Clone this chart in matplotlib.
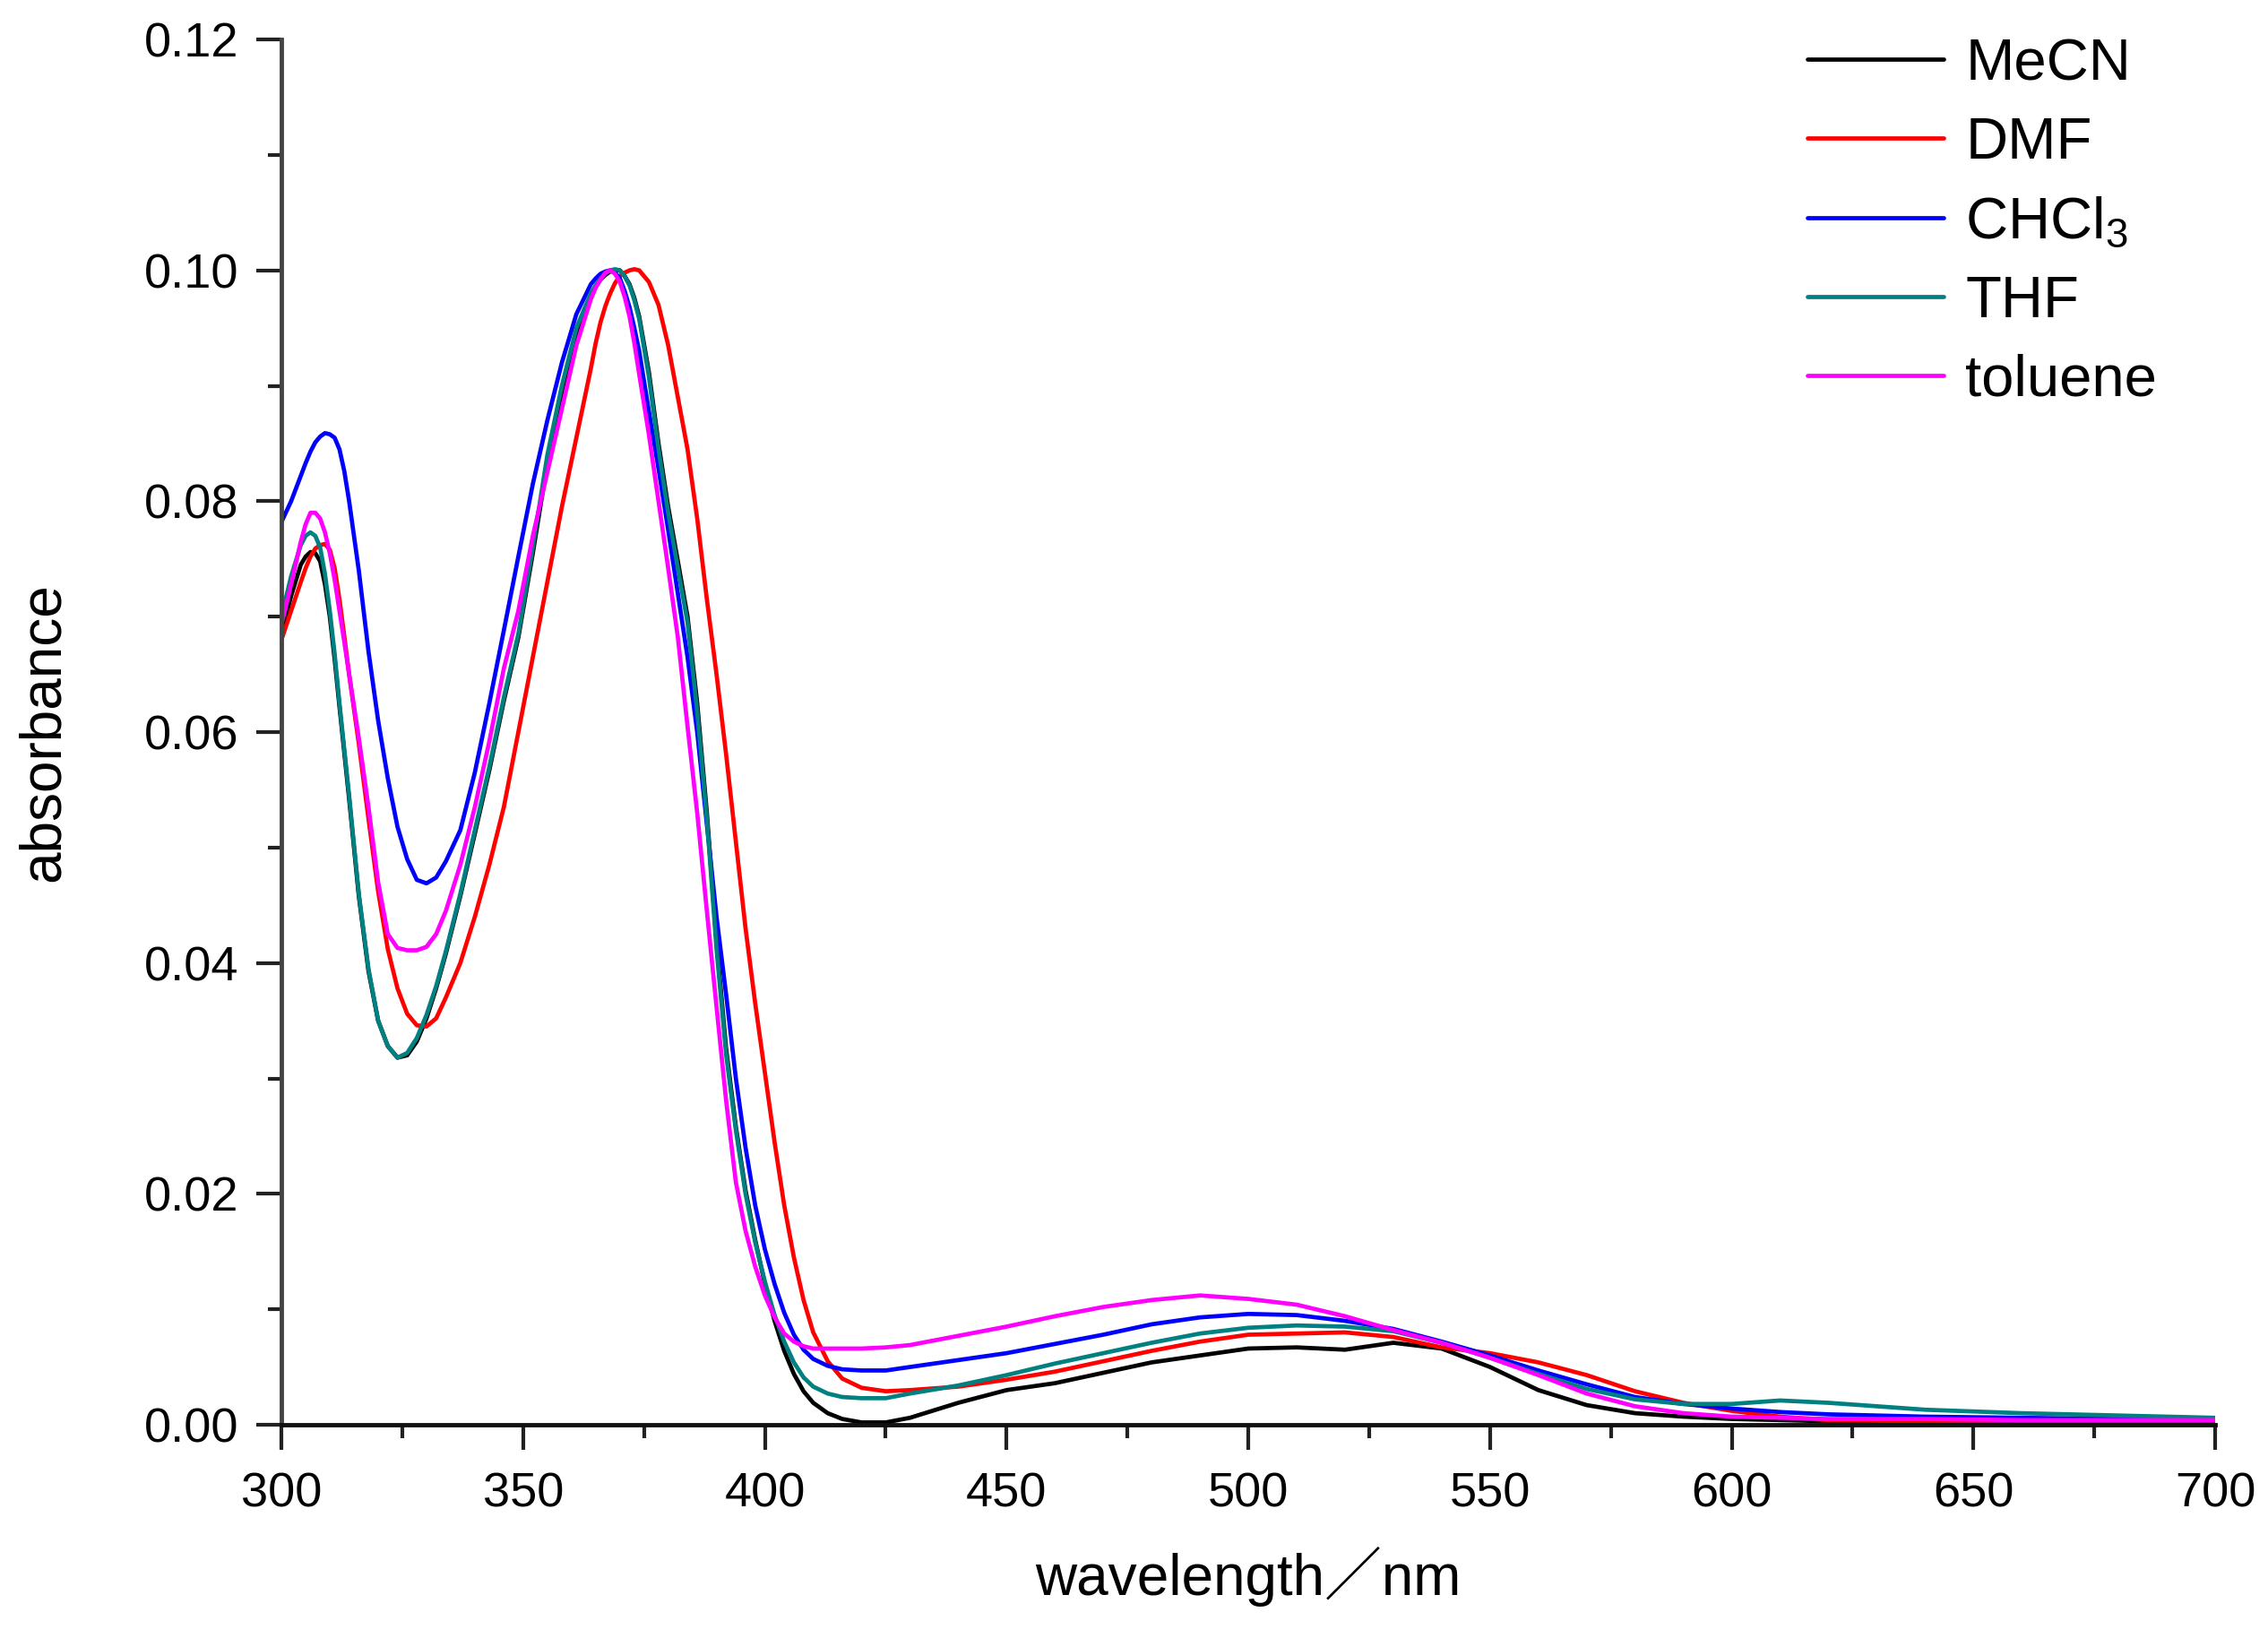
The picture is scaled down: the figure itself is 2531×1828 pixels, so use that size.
import numpy as np
import matplotlib
matplotlib.use("Agg")
import matplotlib.pyplot as plt
from matplotlib.ticker import MultipleLocator

plt.rcParams['font.family'] = ['Liberation Sans', 'Noto Sans CJK JP', 'DejaVu Sans']
plt.rcParams['mathtext.fontset'] = 'custom'
plt.rcParams['mathtext.rm'] = 'Liberation Sans'
plt.rcParams['mathtext.it'] = 'Liberation Sans:italic'

# wavelength grid (nm)
wavelength = [300, 302, 304, 305, 306, 307, 308, 309, 310, 311, 312, 313, 314, 316, 318, 320, 322, 324, 326,
              328, 330, 332, 334,
              337, 340, 343, 346, 349, 352, 355, 358, 361, 364,
              365, 366, 367, 368, 369, 370, 371, 372, 373, 374, 376, 378, 380, 382, 384, 386, 388, 390, 392,
              394, 396, 398, 400, 402, 404, 406, 408, 410,
              413, 416, 420, 425, 430,
              440, 450, 460, 470, 480, 490, 500, 510, 520, 530, 540, 550, 560, 570, 580, 590, 600, 610, 620,
              640, 660, 680, 700]

mecn = [0.0685, 0.0718, 0.0745, 0.0752, 0.0756, 0.0755, 0.0748, 0.0728, 0.0700, 0.0663, 0.0622, 0.0582,
        0.0542, 0.0458, 0.0393, 0.0350, 0.0328, 0.0318, 0.0320,
        0.0332, 0.0352, 0.0378, 0.0408,
        0.0458, 0.0512, 0.0567, 0.0627, 0.0682, 0.0755, 0.0833, 0.0895, 0.0945, 0.0978,
        0.0986, 0.0992, 0.0996, 0.0999, 0.1000, 0.1000, 0.0995, 0.0988, 0.0976, 0.0960, 0.0912, 0.0850,
        0.0795, 0.0748, 0.0700, 0.0625, 0.0530, 0.0418, 0.0325,
        0.0258, 0.0203, 0.0160, 0.0122, 0.0090, 0.0064, 0.0044, 0.0029, 0.0019,
        0.0010, 0.0005, 0.0002, 0.0002, 0.0006,
        0.0019, 0.0030, 0.0036, 0.0045, 0.0054, 0.0060, 0.0066, 0.0067, 0.0065, 0.0071, 0.0066, 0.0050,
        0.0030, 0.0017, 0.0010, 0.0007, 0.0005, 0.0004, 0.0003,
        0.0003, 0.0002, 0.0002, 0.0002]

dmf = [0.0680, 0.0705, 0.0730, 0.0742, 0.0752, 0.0759, 0.0762, 0.0763, 0.0758, 0.0742, 0.0715, 0.0683,
       0.0650, 0.0590, 0.0525, 0.0462, 0.0412, 0.0378, 0.0356,
       0.0346, 0.0345, 0.0352, 0.0370,
       0.0400, 0.0440, 0.0485, 0.0535, 0.0600, 0.0665, 0.0730, 0.0795, 0.0855, 0.0915,
       0.0937, 0.0955, 0.0969, 0.0980, 0.0989, 0.0995, 0.0998, 0.1000, 0.1001, 0.1000, 0.0990, 0.0970,
       0.0935, 0.0890, 0.0845, 0.0785, 0.0715, 0.0650, 0.0580,
       0.0505, 0.0430, 0.0365, 0.0305, 0.0245, 0.0190, 0.0145, 0.0108, 0.0080,
       0.0055, 0.0040, 0.0032, 0.0029, 0.0030,
       0.0033, 0.0039, 0.0046, 0.0055, 0.0064, 0.0072, 0.0078, 0.0079, 0.0080, 0.0076, 0.0067, 0.0062,
       0.0054, 0.0043, 0.0029, 0.0019, 0.0012, 0.0007, 0.0004,
       0.0003, 0.0002, 0.0002, 0.0002]

chcl3 = [0.0782, 0.0800, 0.0822, 0.0833, 0.0843, 0.0851, 0.0856, 0.0859, 0.0858, 0.0855, 0.0845, 0.0826,
         0.0800, 0.0740, 0.0670, 0.0610, 0.0560, 0.0518, 0.0490,
         0.0472, 0.0469, 0.0474, 0.0488,
         0.0515, 0.0565, 0.0625, 0.0688, 0.0752, 0.0815, 0.0870, 0.0920, 0.0962, 0.0988,
         0.0993, 0.0997, 0.0999, 0.1000, 0.0998, 0.0993, 0.0982, 0.0968, 0.0950, 0.0930, 0.0878, 0.0828,
         0.0775, 0.0720, 0.0665, 0.0600, 0.0520, 0.0440, 0.0372,
         0.0300, 0.0240, 0.0190, 0.0152, 0.0122, 0.0097, 0.0078, 0.0065, 0.0057,
         0.0051, 0.0048, 0.0047, 0.0047, 0.0050,
         0.0056, 0.0062, 0.0070, 0.0078, 0.0087, 0.0093, 0.0096, 0.0095, 0.0090, 0.0083, 0.0072, 0.0060,
         0.0047, 0.0035, 0.0024, 0.0018, 0.0014, 0.0011, 0.0009,
         0.0007, 0.0006, 0.0005, 0.0004]

thf = [0.0700, 0.0735, 0.0762, 0.0770, 0.0773, 0.0770, 0.0760, 0.0737, 0.0705, 0.0668, 0.0625, 0.0585,
       0.0545, 0.0460, 0.0395, 0.0350, 0.0328, 0.0318, 0.0322,
       0.0335, 0.0355, 0.0380, 0.0410,
       0.0460, 0.0515, 0.0570, 0.0630, 0.0685, 0.0760, 0.0840, 0.0900, 0.0950, 0.0980,
       0.0987, 0.0993, 0.0997, 0.1000, 0.1001, 0.1000, 0.0995, 0.0987, 0.0974, 0.0958, 0.0908, 0.0845,
       0.0790, 0.0742, 0.0695, 0.0618, 0.0525, 0.0412, 0.0320,
       0.0255, 0.0200, 0.0158, 0.0124, 0.0095, 0.0072, 0.0054, 0.0041, 0.0033,
       0.0027, 0.0024, 0.0023, 0.0023, 0.0027,
       0.0034, 0.0043, 0.0053, 0.0062, 0.0071, 0.0079, 0.0084, 0.0086, 0.0085, 0.0081, 0.0071, 0.0058,
       0.0044, 0.0031, 0.0022, 0.0018, 0.0018, 0.0021, 0.0019,
       0.0013, 0.0010, 0.0008, 0.0006]

toluene = [0.0693, 0.0728, 0.0765, 0.0780, 0.0790, 0.0790, 0.0785, 0.0773, 0.0755, 0.0732, 0.0705, 0.0678,
           0.0650, 0.0595, 0.0535, 0.0470, 0.0425, 0.0413, 0.0411,
           0.0411, 0.0414, 0.0425, 0.0445,
           0.0485, 0.0535, 0.0592, 0.0655, 0.0705, 0.0770, 0.0825, 0.0880, 0.0935, 0.0975,
           0.0985, 0.0992, 0.0998, 0.1000, 0.0997, 0.0990, 0.0977, 0.0960, 0.0937, 0.0910, 0.0858, 0.0800,
           0.0742, 0.0682, 0.0605, 0.0530, 0.0445, 0.0362, 0.0280,
           0.0210, 0.0168, 0.0137, 0.0112, 0.0093, 0.0079, 0.0072, 0.0068, 0.0066,
           0.0066, 0.0066, 0.0066, 0.0067, 0.0069,
           0.0077, 0.0085, 0.0094, 0.0102, 0.0108, 0.0112, 0.0109, 0.0104, 0.0094, 0.0082, 0.0071, 0.0058,
           0.0043, 0.0027, 0.0016, 0.0010, 0.0007, 0.0006, 0.0005,
           0.0005, 0.0004, 0.0004, 0.0004]

labels = ['MeCN', 'DMF', 'CHCl$_3$', 'THF', 'toluene']
colors = ['#000000', '#ff0000', '#0000ff', '#008080', '#ff00ff']

fig = plt.figure(figsize=(25.31, 18.28), dpi=100)
ax = fig.add_axes([0.1241, 0.1302, 0.8526, 0.8457])

for y, lab, c in zip([mecn, dmf, chcl3, thf, toluene], labels, colors):
    ax.plot(wavelength, y, color=c, lw=3.4, label=lab,
            solid_joinstyle='round', solid_capstyle='round')

ax.set_xlim(300, 700)
ax.set_ylim(0, 0.12)
ax.xaxis.set_major_locator(MultipleLocator(50))
ax.xaxis.set_minor_locator(MultipleLocator(25))
ax.yaxis.set_major_locator(MultipleLocator(0.02))
ax.yaxis.set_minor_locator(MultipleLocator(0.01))
ax.yaxis.set_major_formatter(plt.FormatStrFormatter('%.2f'))

# 上と右の枠は無し
ax.spines['top'].set_visible(False)
ax.spines['right'].set_visible(False)
ax.spines['left'].set_color('#444444')
ax.spines['left'].set_linewidth(3.5)
ax.spines['bottom'].set_color('#111111')
ax.spines['bottom'].set_linewidth(3.5)

ax.tick_params(which='major', direction='out', length=20, width=3, labelsize=39, color='#222222')
ax.tick_params(which='minor', direction='out', length=11, width=3, color='#222222')
ax.tick_params(axis='x', which='major', pad=18)
ax.tick_params(axis='y', which='major', pad=14)

ax.set_xlabel('wavelength／nm', fontsize=46)
ax.set_ylabel('absorbance', fontsize=46)
ax.xaxis.set_label_coords(0.5, -0.088)
ax.yaxis.set_label_coords(-0.109, 0.5)

ax.legend(loc='upper left', bbox_to_anchor=(2017 / 2531, 1 - 42 / 1828), bbox_transform=fig.transFigure,
          frameon=False, fontsize=47, handlelength=2.33, handletextpad=0.37, labelspacing=0.43,
          borderpad=0, borderaxespad=0)

fig.savefig('out.png', dpi=100)
